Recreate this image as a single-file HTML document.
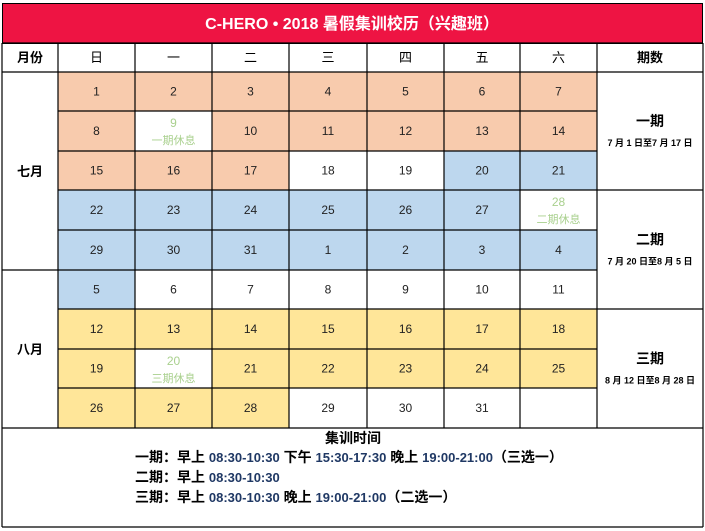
<!DOCTYPE html>
<html><head><meta charset="utf-8">
<style>
html,body{margin:0;padding:0;background:#fff;}
svg{display:block;font-family:"Liberation Sans","Noto Sans CJK SC",sans-serif;}
</style></head>
<body>
<svg id="cal" width="705" height="531" viewBox="0 0 705 531">
<rect x="2.5" y="3.5" width="700" height="40" fill="#EE1443" stroke="#000"/>
<text x="352" y="29" text-anchor="middle" fill="#fff" font-size="16" font-weight="bold">C-HERO • 2018 暑假集训校历（兴趣班）</text>
<g id="grid"></g>
<g id="lines" stroke="#000" stroke-width="1.2" fill="none"></g>
<text x="353" y="443" text-anchor="middle" font-size="14" font-weight="bold">集训时间</text>
<text x="135" y="462" font-size="14" font-weight="bold">一期：早上 <tspan font-size="13" fill="#1F3864">08:30-10:30</tspan>  下午 <tspan font-size="13" fill="#1F3864">15:30-17:30</tspan>  晚上 <tspan font-size="13" fill="#1F3864">19:00-21:00</tspan>（三选一）</text>
<text x="135" y="482" font-size="14" font-weight="bold">二期：早上 <tspan font-size="13" fill="#1F3864">08:30-10:30</tspan></text>
<text x="135" y="502" font-size="14" font-weight="bold">三期：早上 <tspan font-size="13" fill="#1F3864">08:30-10:30</tspan>   晚上 <tspan font-size="13" fill="#1F3864">19:00-21:00</tspan>（二选一）</text>
</svg>
<script>
const headers=['月份','日','一','二','三','四','五','六','期数'];
const days=[[1,2,3,4,5,6,7],[8,9,10,11,12,13,14],[15,16,17,18,19,20,21],[22,23,24,25,26,27,28],[29,30,31,1,2,3,4],[5,6,7,8,9,10,11],[12,13,14,15,16,17,18],[19,20,21,22,23,24,25],[26,27,28,29,30,31,'']];
const fills=['ppppppp','pwppppp','pppwwbb','bbbbbbw','bbbbbbb','bwwwwww','yyyyyyy','ywyyyyy','yyywwww'];
const rests={'1,1':'一期休息','3,6':'二期休息','7,1':'三期休息'};
const colX=[2,58,135,212,289,367,444,520,597,703];
const rowY=[72,111,151,190,230,270,309,349,388,428];
const colors={p:'#F8CBAD',b:'#BDD7EE',y:'#FFE699',w:'#FFFFFF'};
const ns='http://www.w3.org/2000/svg';
const g=document.getElementById('grid'),L=document.getElementById('lines');
function mk(tag,attrs,parent,txt){const e=document.createElementNS(ns,tag);for(const k in attrs)e.setAttribute(k,attrs[k]);if(txt!==undefined)e.textContent=txt;parent.appendChild(e);return e;}
function line(x1,y1,x2,y2){mk('line',{x1,y1,x2,y2},L);}
// header
headers.forEach((h,i)=>{const t=mk('text',{x:(colX[i]+colX[i+1])/2,y:62,'text-anchor':'middle','font-size':13,'font-weight':(i==0||i==8)?'bold':'normal'},g,h);

});
// cells
days.forEach((row,r)=>row.forEach((d,c)=>{
 const x=colX[c+1],y=rowY[r],w=colX[c+2]-x,h=rowY[r+1]-y;
 const rc=mk('rect',{x,y,width:w,height:h,fill:colors[fills[r][c]]},g);
 
 
 const key=r+','+c;
 if(rests[key]){
  mk('text',{x:x+w/2,y:y+16,'text-anchor':'middle','font-size':12,fill:'#A9D08E'},g,d);
  const t=mk('text',{x:x+w/2,y:y+33,'text-anchor':'middle','font-size':11,fill:'#A9D08E'},g,rests[key]);
  
  
 } else {
  const t=mk('text',{x:x+w/2,y:y+h/2+4,'text-anchor':'middle','font-size':12,fill:'#222'},g,d);
  
  
 }
}));
// months
[['七月',0,5],['八月',5,9]].forEach(m=>{const t=mk('text',{x:30,y:(rowY[m[1]]+rowY[m[2]])/2+5,'text-anchor':'middle','font-size':13,'font-weight':'bold'},g,m[0]);

});
// periods
[['一期','7 月 1 日至7 月 17 日',0,3],['二期','7 月 20 日至8 月 5 日',3,6],['三期','8 月 12 日至8 月 28 日',6,9]].forEach(p=>{
 const cy=(rowY[p[2]]+rowY[p[3]])/2;
 const t=mk('text',{x:650,y:cy-5,'text-anchor':'middle','font-size':14,'font-weight':'bold'},g,p[0]);
 
 
 const t2=mk('text',{x:650,y:cy+15,'text-anchor':'middle','font-size':9,'font-weight':'bold'},g,p[1]);
 
 
});
// lines
line(2,43,703,43);line(2,72,703,72);line(2,428,703,428);
for(let r=1;r<9;r++){const y=rowY[r];line(58,y,597,y);}
line(2,270,58,270);line(597,190,703,190);line(597,309,703,309);
for(let c=0;c<colX.length;c++){const x=colX[c];const y2=(c==0||c==9)?527:428;line(x,43,x,y2);}
line(2,527,703,527);
</script>
</body></html>
